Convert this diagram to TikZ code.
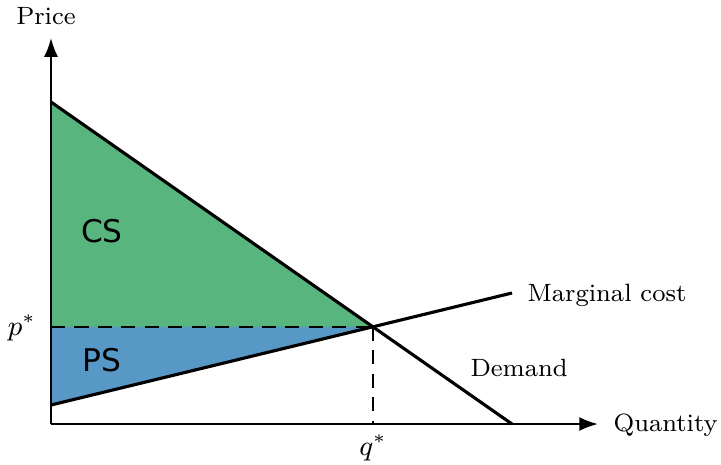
\documentclass[tikz,border=0pt]{standalone}
\usepackage{fontspec}
\newfontfamily\csfont{DejaVu Sans}
\usetikzlibrary{arrows.meta}
\definecolor{csgreen}{RGB}{88,181,126}
\definecolor{psblue}{RGB}{87,152,199}
\tikzset{
  axis/.style={line width=0.7pt,-{Latex[length=6pt,width=4.5pt]}},
  curve/.style={line width=1pt},
  lbl/.style={font=\footnotesize,inner sep=0pt},
  area/.style={font=\csfont\normalsize,inner sep=0pt}
}
\begin{document}
\begin{tikzpicture}[x=0.32pt,y=-0.32pt]
\useasboundingbox (0,0) rectangle (721,464);
\coordinate (O) at (51,424);
\coordinate (D1) at (51,102);
\coordinate (D2) at (512,424);
\coordinate (M1) at (51,405);
\coordinate (M2) at (512,293);
\coordinate (E) at (373,326.8);
\coordinate (P) at (51,326.8);
\coordinate (Q) at (373,424);
\coordinate (Ytop) at (51,38);
\coordinate (Xend) at (598,424);
\fill[csgreen] (D1) -- (E) -- (P) -- cycle;
\fill[psblue] (P) -- (E) -- (M1) -- cycle;
\draw[axis] (O) -- (Ytop);
\draw[axis] (O) -- (Xend);
\draw[line width=0.6pt,dash pattern=on 4.5pt off 3pt] (P) -- (E);
\draw[line width=0.6pt,dash pattern=on 4.5pt off 3pt] (E) -- (Q);
\draw[curve] (D1) -- (D2);
\draw[curve] (M1) -- (M2);
\node[lbl] (price) at (46,16) {Price};
\node[lbl,anchor=west] (qty) at (613,425) {Quantity};
\node[lbl,anchor=west] (mc) at (527,295) {Marginal cost};
\node[lbl,anchor=west] (dem) at (470,368) {Demand};
\node[lbl,font=\small] (pstar) at (22,328) {$p^*$};
\node[lbl,font=\small] (qstar) at (373,448) {$q^*$};
\node[area] (cs) at (102,231) {CS};
\node[area] (ps) at (102,360) {PS};
\end{tikzpicture}
\end{document}
